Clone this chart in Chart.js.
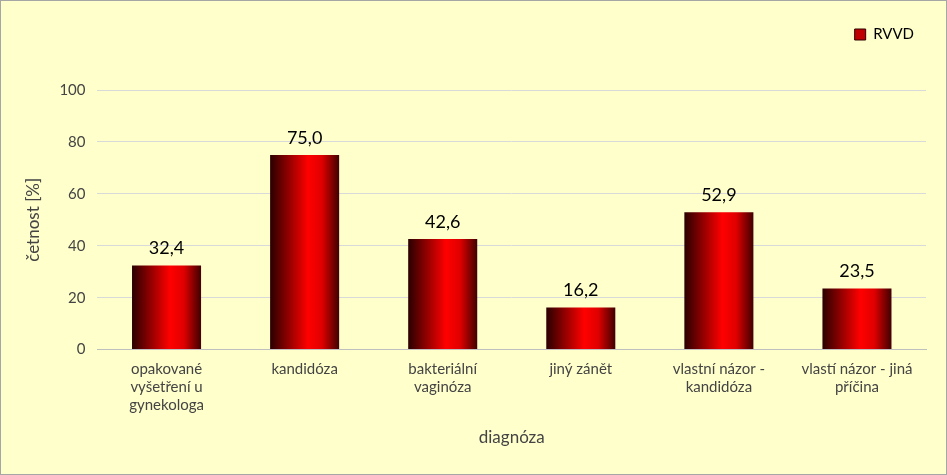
<!DOCTYPE html>
<html><head><meta charset="utf-8">
<script src="https://cdn.jsdelivr.net/npm/chart.js@4"></script>
<style>
html,body{margin:0;padding:0;background:#fff}
#wrap{position:absolute;left:0;top:0;width:945px;height:473px;border:1px solid #a6a6a6;background:#ffffcc}
</style></head><body>
<div id="wrap"><canvas id="c" width="945" height="473"></canvas></div>
<script>
var categories = [["opakované","vyšetření u","gynekologa"],"kandidóza",["bakteriální","vaginóza"],"jiný zánět",["vlastní názor -","kandidóza"],["vlastí názor - jiná","příčina"]];
var rvvd = [32.4, 75.0, 42.6, 16.2, 52.9, 23.5];
var yTicks = [0, 20, 40, 60, 80, 100];

var FONT = "Lato, 'Open Sans', sans-serif";

function barFill(c) {
  var chart = c.chart, x = chart.scales.x;
  if (!x || x.width === 0) return '#e00000';
  var cx = x.getPixelForValue(c.dataIndex);
  var w = (x.width / categories.length) * 0.5;
  var g = chart.ctx.createLinearGradient(cx - w / 2, 0, cx + w / 2, 0);
  g.addColorStop(0, '#2a0000');
  g.addColorStop(0.55, '#ff0000');
  g.addColorStop(0.75, '#e00000');
  g.addColorStop(1, '#400000');
  return g;
}

var labelPlugin = {
  id: 'vals',
  afterDatasetsDraw: function (chart) {
    var ctx = chart.ctx, meta = chart.getDatasetMeta(0);
    ctx.save();
    ctx.font = '18px ' + FONT;
    ctx.fillStyle = '#000';
    ctx.textAlign = 'center';
    ctx.textBaseline = 'bottom';
    meta.data.forEach(function (b, i) {
      ctx.fillText(rvvd[i].toFixed(1).replace('.', ','), b.x, b.y - 8);
    });
    ctx.restore();
  }
};

// extra space below the legend
var legendGap = {
  id: 'legendGap',
  beforeInit: function (chart) {
    var fit = chart.legend.fit;
    chart.legend.fit = function () { fit.bind(chart.legend)(); this.height += 38; };
  }
};

new Chart(document.getElementById('c').getContext('2d'), {
  type: 'bar',
  data: {
    labels: categories,
    datasets: [{
      label: 'RVVD',
      data: rvvd,
      backgroundColor: barFill,
      categoryPercentage: 0.5,
      barPercentage: 1
    }]
  },
  options: {
    responsive: false,
    animation: false,
    layout: { padding: { left: 18, right: 20, top: 14, bottom: 22 } },
    plugins: {
      tooltip: { enabled: false },
      legend: {
        position: 'top', align: 'end',
        labels: { boxWidth: 11, boxHeight: 11, font: { family: FONT, size: 15 }, color: '#333', padding: 12,
          generateLabels: function () {
            return [{ text: 'RVVD', fillStyle: '#c00000', strokeStyle: '#300000', lineWidth: 1 }];
          } }
      }
    },
    scales: {
      y: {
        min: 0, max: 100,
        afterBuildTicks: function (a) { a.ticks = yTicks.map(function (v) { return { value: v }; }); },
        ticks: { font: { family: FONT, size: 15 }, color: '#444', padding: 12 },
        grid: { color: '#d9d9d9', drawTicks: false },
        border: { display: false },
        title: { display: true, text: 'četnost [%]', font: { family: FONT, size: 17 }, color: '#444' }
      },
      x: {
        ticks: { font: { family: FONT, size: 15 }, color: '#444', maxRotation: 0, autoSkip: false },
        grid: { display: false },
        border: { color: '#bfbfbf' },
        title: { display: true, text: 'diagnóza', font: { family: FONT, size: 17 }, color: '#444', padding: { top: 10 } }
      }
    }
  },
  plugins: [labelPlugin, legendGap]
});
</script>
</body></html>
